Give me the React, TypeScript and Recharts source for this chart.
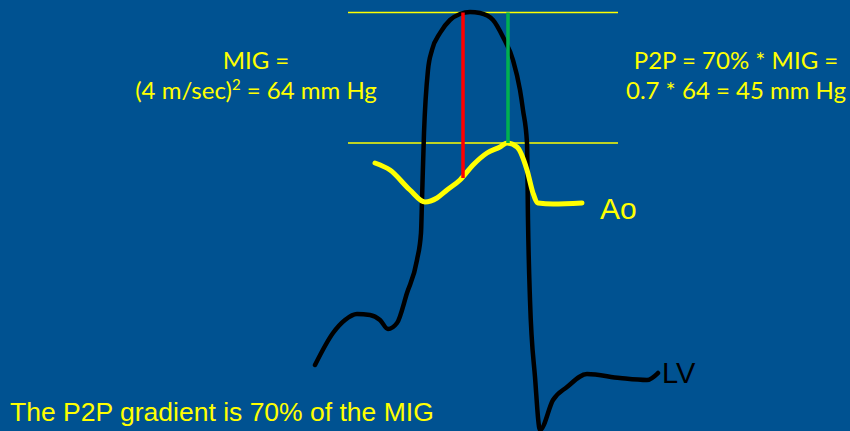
import { ComposedChart, Line, XAxis, YAxis, ReferenceLine } from 'recharts'

// LV pressure trace (time, pressure units on a 0-431 scale)
const lvTime = [315, 333, 345, 357, 370, 380, 388, 397, 407, 417, 421, 422, 424, 428, 432, 440, 450, 460, 470, 480, 493, 503, 513, 520, 523, 527, 528, 530, 535, 540, 553, 567, 587, 620, 647, 658]
const lvPressure = [66, 98, 111, 117, 116, 111, 102, 108, 138, 171, 198, 231, 298, 361, 381, 398, 411, 417, 419, 418, 411, 394, 371, 341, 321, 288, 211, 131, 54, 1, 31, 44, 57, 53, 51, 58]

// aortic pressure trace
const aoTime = [375, 390, 410, 425, 437, 447, 460, 473, 487, 500, 507, 517, 527, 533, 538, 553, 582]
const aoPressure = [268, 261, 241, 229, 233, 241, 251, 266, 278, 284, 288, 284, 261, 238, 228, 227, 228]

// peak LV, peak Ao and the two gradient markers
const lvPeak = 418.5
const aoPeak = 288
const guideStart = 348
const guideEnd = 618
const migTime = 463
const migBottom = 253
const p2pTime = 508

const lvData = lvTime.map((t, i) => ({ t, p: lvPressure[i] }))
const aoData = aoTime.map((t, i) => ({ t, p: aoPressure[i] }))

const yellow = '#ffff00'

export default function App() {
  return (
    <div style={{ position: 'fixed', left: 0, top: 0, width: 850, height: 431, background: '#005291', overflow: 'hidden' }}>
      <ComposedChart width={850} height={431} margin={{ top: 0, right: 0, bottom: 0, left: 0 }}>
        <XAxis type="number" dataKey="t" domain={[0, 850]} hide allowDataOverflow />
        <YAxis type="number" domain={[0, 431]} hide allowDataOverflow />
        <ReferenceLine segment={[{ x: guideStart, y: lvPeak }, { x: guideEnd, y: lvPeak }]} stroke={yellow} strokeWidth={1.6} ifOverflow="visible" />
        <ReferenceLine segment={[{ x: guideStart, y: aoPeak }, { x: guideEnd, y: aoPeak }]} stroke={yellow} strokeWidth={1.6} ifOverflow="visible" />
        <Line data={lvData} dataKey="p" type="monotoneX" stroke="#000000" strokeWidth={4.5} dot={false} activeDot={false} isAnimationActive={false} strokeLinecap="round" strokeLinejoin="round" />
        <Line data={aoData} dataKey="p" type="monotoneX" stroke={yellow} strokeWidth={5} dot={false} activeDot={false} isAnimationActive={false} strokeLinecap="round" strokeLinejoin="round" />
        <ReferenceLine segment={[{ x: migTime, y: lvPeak }, { x: migTime, y: migBottom }]} stroke="#ff0000" strokeWidth={3.5} ifOverflow="visible" />
        <ReferenceLine segment={[{ x: p2pTime, y: lvPeak }, { x: p2pTime, y: aoPeak }]} stroke="#00b050" strokeWidth={3.5} ifOverflow="visible" />
      </ComposedChart>
      <svg width={850} height={431} style={{ position: 'absolute', left: 0, top: 0, pointerEvents: 'none' }}>
        <g fontFamily="Lato, sans-serif" fontSize={24} fill={yellow} textAnchor="middle">
          <text x={256} y={69}>MIG =</text>
          <text x={256} y={99}>
            (4 m/sec)<tspan fontSize={15} dy={-9}>2</tspan><tspan dy={9}> = 64 mm Hg</tspan>
          </text>
          <text x={736} y={69}>P2P = 70% * MIG =</text>
          <text x={736} y={99}>0.7 * 64 = 45 mm Hg</text>
        </g>
        <text x={600} y={219} fontFamily="Liberation Sans, Arial, sans-serif" fontSize={30} fill={yellow}>Ao</text>
        <text x={662} y={383} fontFamily="Liberation Sans, Arial, sans-serif" fontSize={29} fill="#000000">LV</text>
        <text x={10} y={421} fontFamily="Liberation Sans, Arial, sans-serif" fontSize={26.5} fill={yellow}>The P2P gradient is 70% of the MIG</text>
      </svg>
    </div>
  )
}
